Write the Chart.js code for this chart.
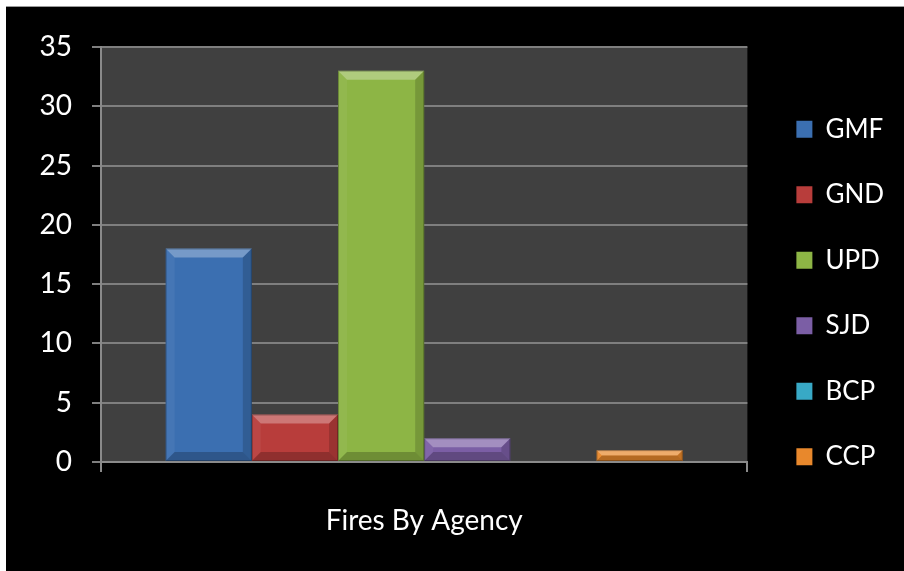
<!DOCTYPE html>
<html>
<head>
<meta charset="utf-8">
<script src="https://cdn.jsdelivr.net/npm/chart.js@4"></script>
<style>
  html, body { margin: 0; padding: 0; background: #000000; overflow: hidden; width: 100%; height: 100%; }
  #topStrip { position: absolute; left: 0; top: 0; width: 100%; height: 6px; background: #ffffff; border-bottom: 1px solid #9a9a9a; }
  #leftStrip { position: absolute; left: 0; top: 0; width: 6px; height: 100%; background: #ffffff; }
  #wrap { position: absolute; left: 6px; top: 7px; width: 898px; height: 564px; background: #000000; }
  canvas { display: block; }
</style>
</head>
<body>
<div id="topStrip"></div>
<div id="leftStrip"></div>
<div id="wrap"><canvas id="c" width="898" height="564"></canvas></div>
<script>
const categories = ["Fires By Agency"];
const agencies = ["GMF", "GND", "UPD", "SJD", "BCP", "CCP"];
const fires = [18, 4, 33, 2, 0, 1];
const colors = ["#3b6fb1", "#b83d3b", "#8db545", "#7b5ea5", "#38a9c6", "#e8882c"];
const yTicks = [0, 5, 10, 15, 20, 25, 30, 35];

const plotBg = {
  id: 'plotBg',
  beforeDraw(chart) {
    const { ctx, chartArea: a } = chart;
    ctx.save();
    ctx.fillStyle = '#404040';
    ctx.fillRect(a.left, a.top, a.right - a.left, a.bottom - a.top);
    ctx.restore();
  }
};

const bevel = {
  id: 'bevel',
  afterDatasetsDraw(chart) {
    const ctx = chart.ctx;
    chart.data.datasets.forEach((ds, i) => {
      chart.getDatasetMeta(i).data.forEach(bar => {
        const p = bar.getProps(['x', 'y', 'base', 'width'], true);
        const l = p.x - p.width / 2, r = p.x + p.width / 2;
        const t = Math.min(p.y, p.base), b = Math.max(p.y, p.base);
        const h = b - t;
        if (h < 1) return;
        const bv = Math.min(9, h / 2, p.width / 2);
        ctx.save();
        ctx.fillStyle = 'rgba(255,255,255,0.30)';
        ctx.beginPath();
        ctx.moveTo(l, t); ctx.lineTo(r, t); ctx.lineTo(r - bv, t + bv); ctx.lineTo(l + bv, t + bv);
        ctx.closePath(); ctx.fill();
        ctx.fillStyle = 'rgba(255,255,255,0.05)';
        ctx.beginPath();
        ctx.moveTo(l, t); ctx.lineTo(l + bv, t + bv); ctx.lineTo(l + bv, b - bv); ctx.lineTo(l, b);
        ctx.closePath(); ctx.fill();
        ctx.fillStyle = 'rgba(0,0,0,0.16)';
        ctx.beginPath();
        ctx.moveTo(r, t); ctx.lineTo(r - bv, t + bv); ctx.lineTo(r - bv, b - bv); ctx.lineTo(r, b);
        ctx.closePath(); ctx.fill();
        ctx.fillStyle = 'rgba(0,0,0,0.22)';
        ctx.beginPath();
        ctx.moveTo(l, b); ctx.lineTo(l + bv, b - bv); ctx.lineTo(r - bv, b - bv); ctx.lineTo(r, b);
        ctx.closePath(); ctx.fill();
        ctx.strokeStyle = 'rgba(0,0,0,0.25)';
        ctx.lineWidth = 1;
        ctx.strokeRect(l + 0.5, t + 0.5, r - l - 1, h - 1);
        ctx.restore();
      });
    });
  }
};

const datasets = agencies.map((name, i) => ({
  label: name,
  data: [fires[i]],
  backgroundColor: colors[i],
  borderWidth: 0,
  categoryPercentage: 0.8,
  barPercentage: 1.0
}));

const FONT = 'Lato';

new Chart(document.getElementById('c'), {
  type: 'bar',
  data: { labels: categories, datasets },
  options: {
    responsive: false,
    animation: false,
    devicePixelRatio: 1,
    layout: { padding: { top: 40, right: 10, bottom: 32, left: 0 } },
    plugins: {
      legend: {
        position: 'right',
        labels: {
          color: '#ffffff',
          font: { family: FONT, size: 26 },
          boxWidth: 16,
          boxHeight: 17,
          padding: 39.5
        }
      },
      tooltip: { enabled: false }
    },
    scales: {
      x: {
        grid: { display: true, drawOnChartArea: false, drawTicks: true, tickLength: 10, color: '#8a8a8a', lineWidth: 2 },
        border: { display: true, color: '#8a8a8a', width: 2 },
        ticks: { color: '#ffffff', font: { family: FONT, size: 28 }, padding: 32 },
        afterFit(s) { s.height = 77; }
      },
      y: {
        min: 0, max: 35,
        afterBuildTicks(s) { s.ticks = yTicks.map(v => ({ value: v })); },
        grid: { color: '#7f7f7f', lineWidth: 2, tickLength: 9 },
        border: { display: true, color: '#8a8a8a', width: 2 },
        ticks: { color: '#ffffff', font: { family: FONT, size: 28 }, padding: 20 },
        afterFit(s) { s.width = 95; }
      },
      y2: {
        position: 'right',
        display: true,
        grid: { display: false },
        border: { display: false },
        ticks: { display: false },
        afterFit(s) { s.width = 9.5; }
      }
    }
  },
  plugins: [plotBg, bevel]
});
</script>
</body>
</html>
